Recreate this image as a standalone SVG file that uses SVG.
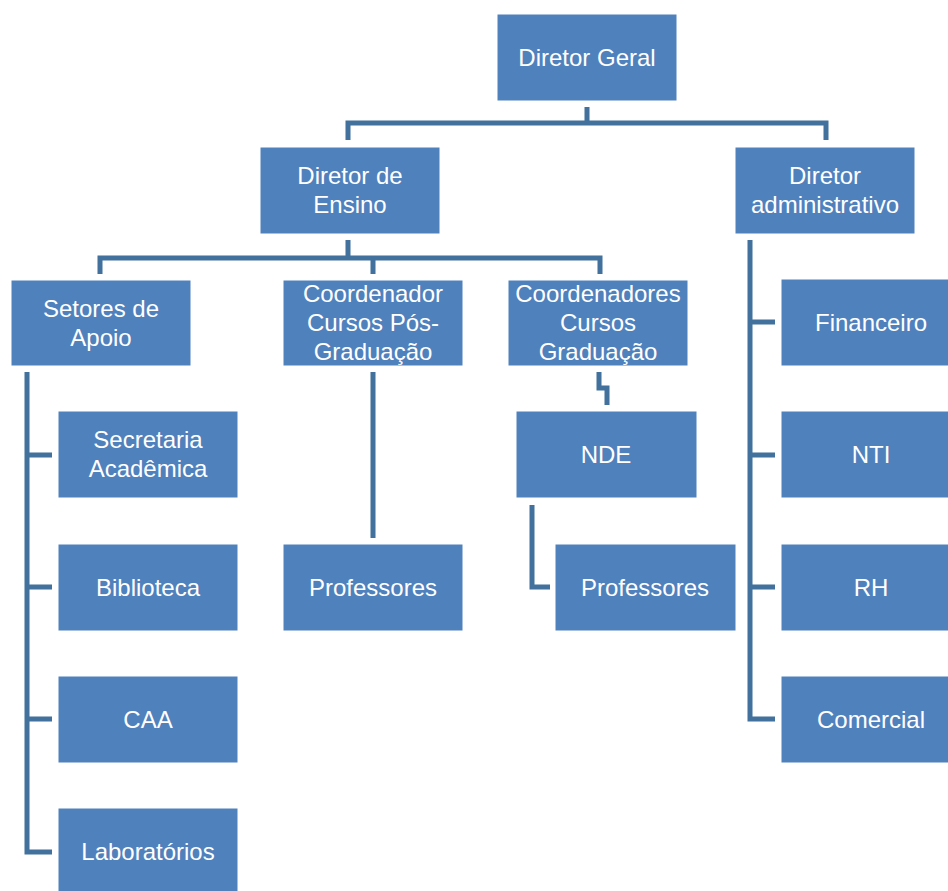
<svg xmlns="http://www.w3.org/2000/svg" width="948" height="891" viewBox="0 0 948 891">
<style>
.n rect{fill:#4F81BD;stroke:#FFFFFF;stroke-width:1}
.n text{fill:#FFFFFF;font-family:"Liberation Sans",Arial,sans-serif;font-size:24px;text-anchor:middle}
.c path{fill:none;stroke:#41719C;stroke-width:5}
</style>
<rect width="948" height="891" fill="#FFFFFF"/>
<g class="c" id="connectors">
<path d="M587,107 V123 M348,140 V123 H826 V140"/>
<path d="M348,240 V258 M100,274 V258 H600 V274 M373,258 V274"/>
<path d="M27,372 V852 H52 M27,455 H52 M27,587 H52 M27,719 H52"/>
<path d="M373,372 V538"/>
<path d="M599,372 V388 H607 V405"/>
<path d="M532,505 V587 H550"/>
<path d="M750,240 V719 H775 M750,322 H775 M750,455 H775 M750,587 H775"/>
</g>
<g class="n" id="diretor-geral"><rect x="497" y="14" width="180" height="87"/><text x="587" y="66">Diretor Geral</text></g>
<g class="n" id="diretor-ensino"><rect x="260" y="147" width="180" height="87"/><text x="350" y="184">Diretor de</text><text x="350" y="213">Ensino</text></g>
<g class="n" id="diretor-adm"><rect x="735" y="147" width="180" height="87"/><text x="825" y="184">Diretor</text><text x="825" y="213">administrativo</text></g>
<g class="n" id="setores-apoio"><rect x="11" y="280" width="180" height="86"/><text x="101" y="317">Setores de</text><text x="101" y="346">Apoio</text></g>
<g class="n" id="coord-pos"><rect x="283" y="280" width="180" height="86"/><text x="373" y="302">Coordenador</text><text x="373" y="331">Cursos Pós-</text><text x="373" y="360">Graduação</text></g>
<g class="n" id="coord-grad"><rect x="508" y="280" width="180" height="86"/><text x="598" y="302">Coordenadores</text><text x="598" y="331">Cursos</text><text x="598" y="360">Graduação</text></g>
<g class="n" id="nde"><rect x="516" y="411" width="181" height="87"/><text x="606" y="463">NDE</text></g>
<g class="n" id="prof-pos"><rect x="283" y="544" width="180" height="87"/><text x="373" y="596">Professores</text></g>
<g class="n" id="prof-grad"><rect x="555" y="544" width="181" height="87"/><text x="645" y="596">Professores</text></g>
<g class="n" id="secretaria"><rect x="58" y="411" width="180" height="87"/><text x="148" y="448">Secretaria</text><text x="148" y="477">Acadêmica</text></g>
<g class="n" id="biblioteca"><rect x="58" y="544" width="180" height="87"/><text x="148" y="596">Biblioteca</text></g>
<g class="n" id="caa"><rect x="58" y="676" width="180" height="87"/><text x="148" y="728">CAA</text></g>
<g class="n" id="laboratorios"><rect x="58" y="808" width="180" height="87"/><text x="148" y="860">Laboratórios</text></g>
<g class="n" id="financeiro"><rect x="781" y="279" width="180" height="87"/><text x="871" y="331">Financeiro</text></g>
<g class="n" id="nti"><rect x="781" y="411" width="180" height="87"/><text x="871" y="463">NTI</text></g>
<g class="n" id="rh"><rect x="781" y="544" width="180" height="87"/><text x="871" y="596">RH</text></g>
<g class="n" id="comercial"><rect x="781" y="676" width="180" height="87"/><text x="871" y="728">Comercial</text></g>
</svg>
